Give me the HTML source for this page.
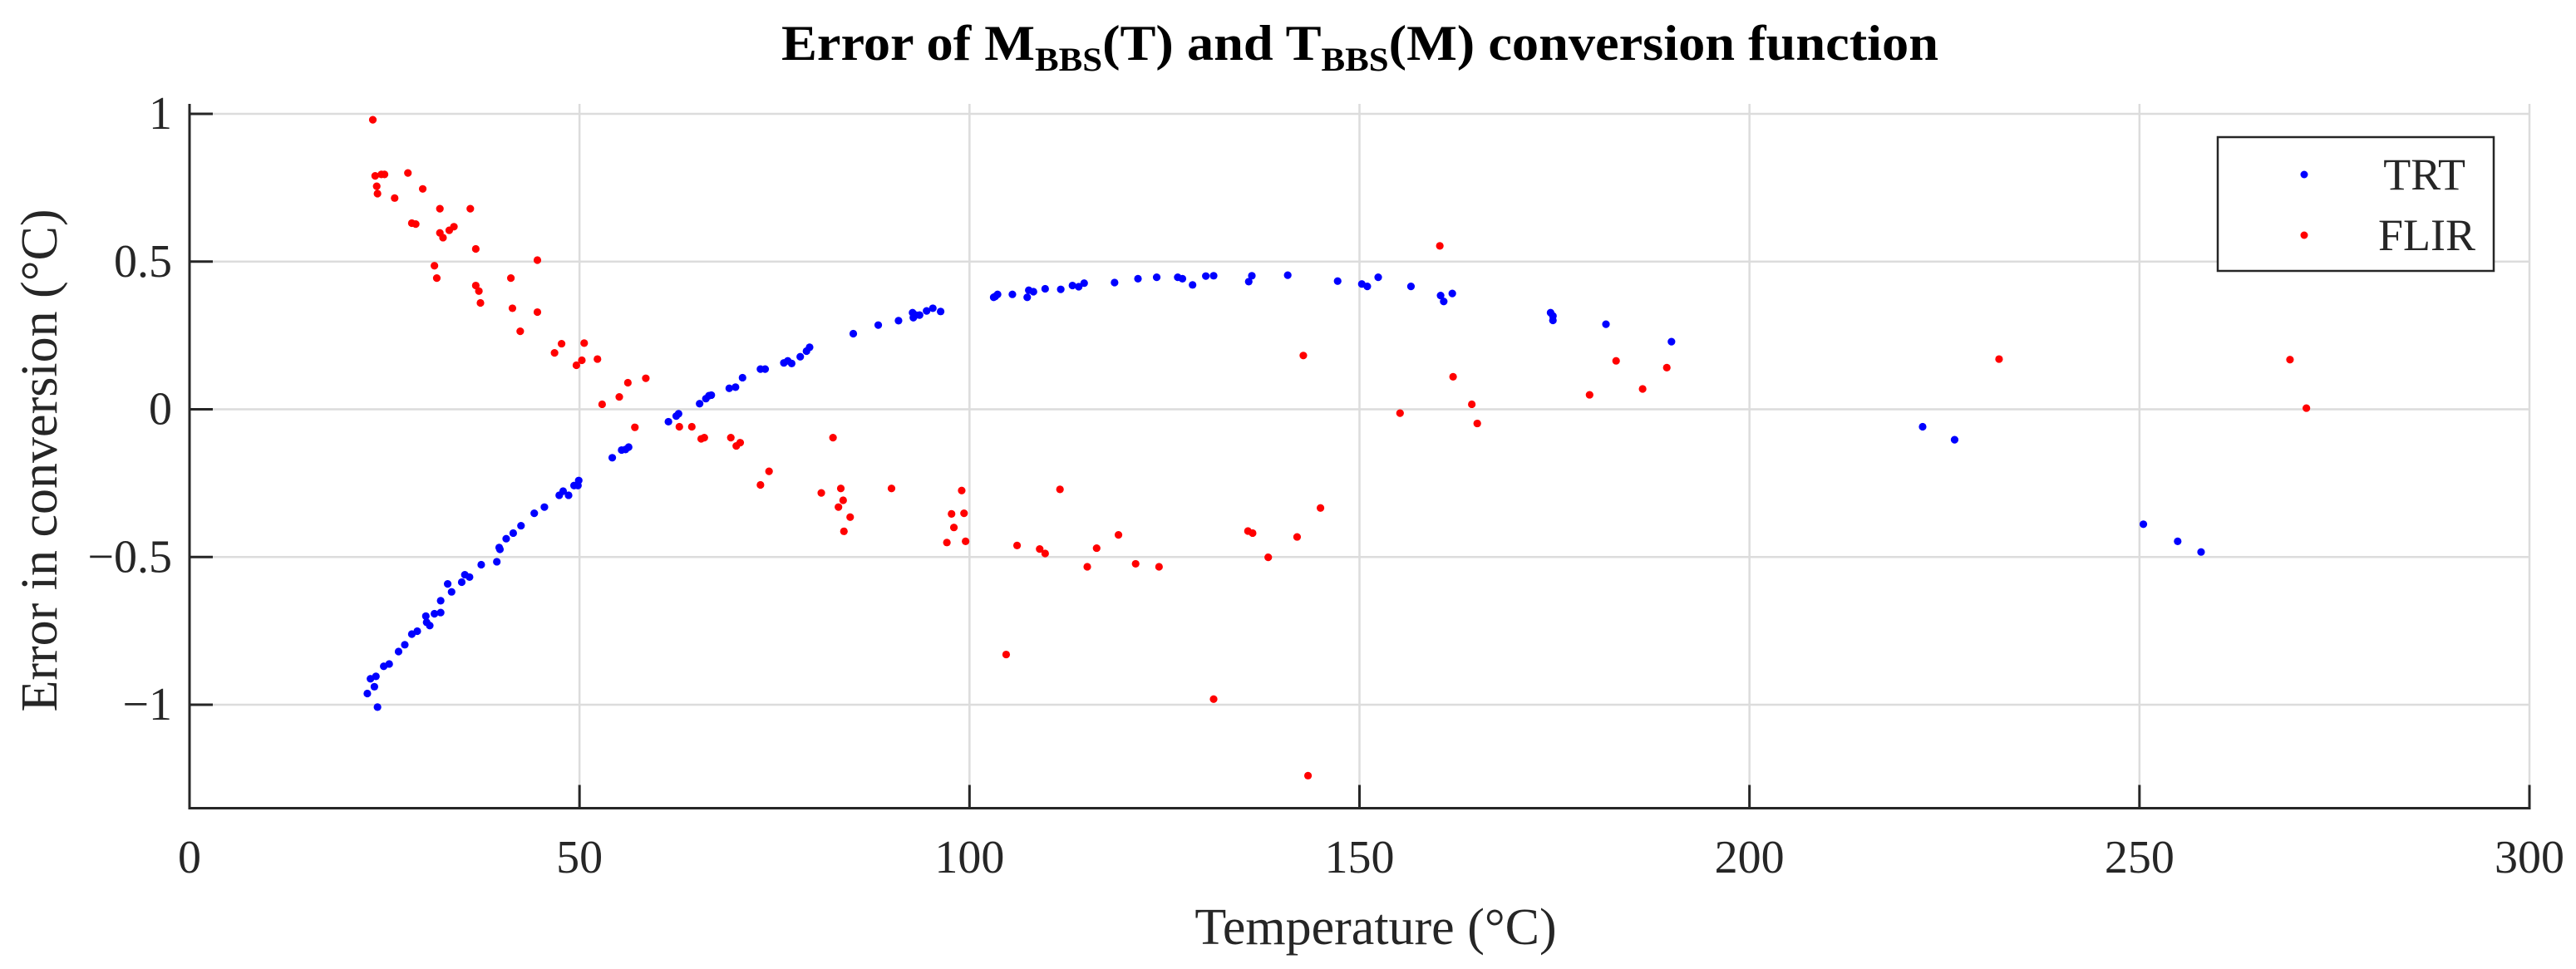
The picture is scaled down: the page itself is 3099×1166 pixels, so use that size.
<!DOCTYPE html>
<html><head><meta charset="utf-8">
<style>
html,body{margin:0;padding:0;background:#fff;}
svg{display:block;}
text{font-family:"Liberation Serif",serif;fill:#262626;}
</style></head>
<body>
<svg id="chart" width="3099" height="1166" viewBox="0 0 3099 1166" xmlns="http://www.w3.org/2000/svg">
<rect width="3099" height="1166" fill="#fff"/>
<g id="grid"></g>
<g id="marks"></g>
<g id="axes"></g>
<text x="940" y="72" font-weight="bold" font-size="60" textLength="1392" lengthAdjust="spacingAndGlyphs" style="fill:#000">Error of M<tspan font-size="40" dy="13">BBS</tspan><tspan dy="-13">(T) and T</tspan><tspan font-size="40" dy="13">BBS</tspan><tspan dy="-13">(M) conversion function</tspan></text>
<text x="1655" y="1136" text-anchor="middle" font-size="62">Temperature (°C)</text>
<text transform="translate(68,554) rotate(-90)" text-anchor="middle" font-size="62">Error in conversion (°C)</text>
<g>
<rect x="2668" y="165" width="332" height="161" fill="#fff" stroke="#262626" stroke-width="2.5"/>
<circle cx="2772" cy="210" r="4.5" fill="#0000ff"/>
<text x="2966" y="228" text-anchor="end" font-size="54">TRT</text>
<circle cx="2772" cy="283" r="4.5" fill="#ff0000"/>
<text x="2978" y="301" text-anchor="end" font-size="54">FLIR</text>
</g>
</svg>
<script>
const xTicks = [0, 50, 100, 150, 200, 250, 300];
const xTickLabels = ["0", "50", "100", "150", "200", "250", "300"];
const yTicks = [-1, -0.5, 0, 0.5, 1];
const yTickLabels = ["\u22121", "\u22120.5", "0", "0.5", "1"];
const trtT = [22.8,23.2,23.7,23.9,24.1,24.9,25.6,26.8,27.6,28.5,29.2,30.3,30.4,30.8,31.4,32.2,32.2,33.1,33.6,34.9,35.3,35.9,37.4,39.4,39.7,39.8,40.6,41.5,42.5,44.2,45.5,47.4,47.9,48.6,49.3,49.8,49.9,54.2,55.4,55.9,56.3,61.4,62.4,62.7,65.4,66.2,66.6,66.9,69.2,70.0,70.9,73.2,73.8,76.2,76.7,77.2,78.3,79.1,79.5,85.1,88.3,90.9,92.7,92.8,93.1,93.6,94.5,95.3,96.3,103.1,103.3,103.6,105.5,107.4,107.6,108.2,109.7,111.7,113.2,114.0,114.7,118.6,121.6,124.0,126.7,127.3,128.6,130.3,131.3,135.8,136.2,140.8,147.2,150.3,151.0,152.4,156.6,160.4,160.8,161.9,174.5,174.8,174.8,181.6,190.0,222.2,226.3,250.5,254.9,257.9];
const trtErr = [-0.962,-0.912,-0.939,-0.904,-1.008,-0.870,-0.862,-0.820,-0.797,-0.761,-0.751,-0.700,-0.721,-0.732,-0.692,-0.648,-0.688,-0.591,-0.618,-0.585,-0.560,-0.568,-0.526,-0.516,-0.468,-0.474,-0.438,-0.419,-0.394,-0.352,-0.331,-0.291,-0.277,-0.291,-0.258,-0.258,-0.241,-0.164,-0.138,-0.136,-0.128,-0.042,-0.023,-0.015,0.019,0.036,0.046,0.048,0.071,0.075,0.107,0.136,0.136,0.157,0.164,0.155,0.178,0.197,0.21,0.256,0.285,0.30,0.327,0.310,0.319,0.319,0.333,0.342,0.331,0.379,0.382,0.389,0.389,0.379,0.403,0.398,0.408,0.406,0.419,0.415,0.427,0.429,0.442,0.447,0.447,0.442,0.421,0.451,0.452,0.432,0.452,0.454,0.434,0.424,0.416,0.447,0.416,0.385,0.365,0.392,0.327,0.316,0.301,0.288,0.229,-0.059,-0.103,-0.389,-0.447,-0.483];
const flirT = [23.5,23.8,24.0,24.1,24.6,25.0,26.3,28.0,28.5,29.0,29.9,31.4,31.7,32.1,32.1,32.5,33.3,33.9,36.0,36.7,36.7,37.1,37.3,41.2,41.4,42.4,44.6,44.6,46.8,47.7,49.6,50.3,50.6,52.3,52.9,55.1,56.2,57.1,58.5,62.8,64.4,65.6,66.0,69.4,70.1,70.6,73.2,74.3,81.0,82.5,83.2,83.5,83.8,83.9,84.7,90.0,97.1,97.7,98.0,99.0,99.3,99.5,104.7,106.1,109.0,109.7,111.6,115.1,116.3,119.1,121.3,124.3,131.3,135.7,136.3,138.3,142.0,142.8,143.4,145.0,155.2,160.3,162.0,164.4,165.1,179.5,182.9,186.3,189.4,232.0,269.3,271.4];
const flirErr = [0.98,0.79,0.755,0.73,0.795,0.795,0.715,0.80,0.63,0.627,0.746,0.486,0.444,0.679,0.597,0.581,0.606,0.618,0.679,0.543,0.419,0.40,0.36,0.444,0.342,0.264,0.505,0.329,0.191,0.222,0.149,0.166,0.224,0.170,0.017,0.042,0.090,-0.061,0.105,-0.059,-0.059,-0.10,-0.096,-0.096,-0.124,-0.113,-0.256,-0.21,-0.283,-0.096,-0.331,-0.268,-0.308,-0.413,-0.365,-0.268,-0.451,-0.354,-0.40,-0.275,-0.352,-0.447,-0.830,-0.461,-0.473,-0.488,-0.271,-0.533,-0.470,-0.425,-0.523,-0.533,-0.981,-0.412,-0.419,-0.501,-0.432,0.182,-1.24,-0.334,-0.013,0.553,0.110,0.017,-0.048,0.049,0.164,0.069,0.141,0.170,0.168,0.004];

const NS = "http://www.w3.org/2000/svg";
const X0 = 228, X1 = 3043, Y_TOP = 125, Y_BOT = 972.5;
function xScale(v){ return X0 + (v - 0) / 300 * (X1 - X0); }
function yScale(v){ return 492.5 - v * 355.5; }
function mk(tag, attrs, parent){
  const el = document.createElementNS(NS, tag);
  for (const k in attrs) el.setAttribute(k, attrs[k]);
  parent.appendChild(el);
  return el;
}
const grid = document.getElementById('grid');
const axes = document.getElementById('axes');
const marks = document.getElementById('marks');

xTicks.forEach((t, i) => {
  const x = xScale(t);
  if (t > 0) {
    const g = mk('line', {x1:x, x2:x, y1:Y_TOP, y2:Y_BOT, stroke:'#dcdcdc', 'stroke-width':2.5}, grid);
    
    
  }
  const tk = mk('line', {x1:x, x2:x, y1:Y_BOT, y2:Y_BOT-28, stroke:'#262626', 'stroke-width':3}, axes);
  
  
  const lb = mk('text', {x:x, y:1050, 'text-anchor':'middle', 'font-size':56}, axes);
  lb.textContent = xTickLabels[i];
  
  
});
yTicks.forEach((t, i) => {
  const y = yScale(t);
  const g = mk('line', {x1:X0, x2:X1, y1:y, y2:y, stroke:'#dcdcdc', 'stroke-width':2.5}, grid);
  
  
  const tk = mk('line', {x1:X0, x2:X0+28, y1:y, y2:y, stroke:'#262626', 'stroke-width':3}, axes);
  
  
  const lb = mk('text', {x:207, y:y+18, 'text-anchor':'end', 'font-size':56}, axes);
  lb.textContent = yTickLabels[i];
  
  
});
const ax = mk('line', {x1:X0, x2:X0, y1:Y_TOP, y2:Y_BOT+1.5, stroke:'#262626', 'stroke-width':3}, axes);


const bx = mk('line', {x1:X0-1.5, x2:X1+1.5, y1:Y_BOT, y2:Y_BOT, stroke:'#262626', 'stroke-width':3}, axes);



trtT.forEach((t, i) => {
  const c = mk('circle', {cx:xScale(t), cy:yScale(trtErr[i]), r:4.6, fill:'#0000ff'}, marks);
  
  
});
flirT.forEach((t, i) => {
  const c = mk('circle', {cx:xScale(t), cy:yScale(flirErr[i]), r:4.6, fill:'#ff0000'}, marks);
  
  
});
</script>
</body></html>
